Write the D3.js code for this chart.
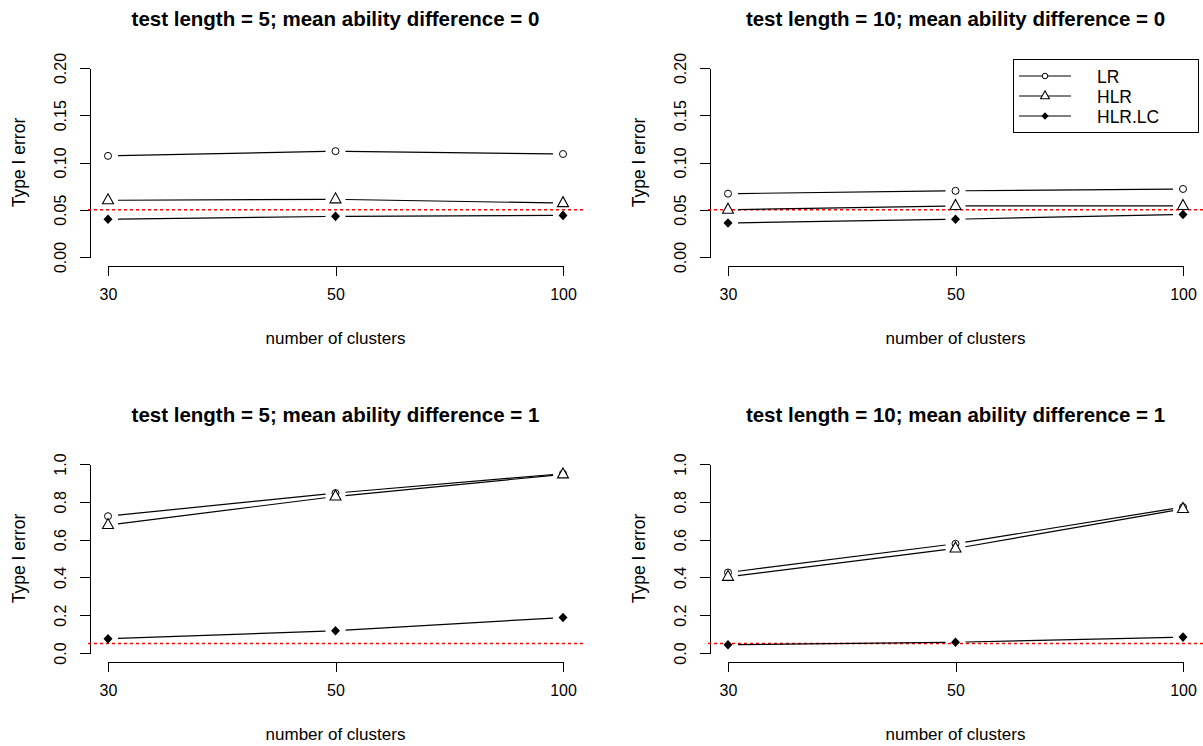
<!DOCTYPE html>
<html>
<head>
<meta charset="utf-8">
<script src="https://cdn.jsdelivr.net/npm/d3@7"></script>
<style>
  body { margin: 0; background: #fff; }
  svg { display: block; font-family: "Liberation Sans", Arial, sans-serif; }
</style>
</head>
<body>
<svg id="chart" width="1203" height="746"></svg>
<script>
// data
const clusters = [30, 50, 100];
const seriesNames = ["LR", "HLR", "HLR.LC"];

// test length = 5, mean ability difference = 0
const lr_5_0 = [0.107, 0.112, 0.109];
const hlr_5_0 = [0.060, 0.061, 0.057];
const hlrlc_5_0 = [0.040, 0.043, 0.044];

// test length = 10, mean ability difference = 0
const lr_10_0 = [0.067, 0.070, 0.072];
const hlr_10_0 = [0.050, 0.054, 0.054];
const hlrlc_10_0 = [0.036, 0.040, 0.045];

// test length = 5, mean ability difference = 1
const lr_5_1 = [0.724, 0.846, 0.949];
const hlr_5_1 = [0.677, 0.828, 0.945];
const hlrlc_5_1 = [0.075, 0.118, 0.188];

// test length = 10, mean ability difference = 1
const lr_10_1 = [0.426, 0.578, 0.772];
const hlr_10_1 = [0.403, 0.553, 0.762];
const hlrlc_10_1 = [0.044, 0.057, 0.084];

const titles = [
  "test length = 5; mean ability difference = 0",
  "test length = 10; mean ability difference = 0",
  "test length = 5; mean ability difference = 1",
  "test length = 10; mean ability difference = 1"
];
const yTicksSmall = [0, 0.05, 0.10, 0.15, 0.20];
const yTicksLarge = [0, 0.2, 0.4, 0.6, 0.8, 1.0];
const nominalAlpha = 0.05;

const svg = d3.select("#chart");

// plot region of one panel (top-left), other panels are shifted
const region = { left: 88, right: 583, top: 60, bottom: 266 };
const panelOffsets = [[0, 0], [620, 0], [0, 396], [620, 396]];

const panels = [
  { title: titles[0], ymax: 0.2, ticks: yTicksSmall, fmt: ".2f", data: [lr_5_0, hlr_5_0, hlrlc_5_0], legend: false },
  { title: titles[1], ymax: 0.2, ticks: yTicksSmall, fmt: ".2f", data: [lr_10_0, hlr_10_0, hlrlc_10_0], legend: true },
  { title: titles[2], ymax: 1.0, ticks: yTicksLarge, fmt: ".1f", data: [lr_5_1, hlr_5_1, hlrlc_5_1], legend: false },
  { title: titles[3], ymax: 1.0, ticks: yTicksLarge, fmt: ".1f", data: [lr_10_1, hlr_10_1, hlrlc_10_1], legend: false }
];

// point symbols like R's pch 1, 2 and 18
function drawSymbol(g, kind, x, y, k = 1) {
  if (kind === 0) {
    g.append("circle").attr("cx", x).attr("cy", y).attr("r", 3.5 * k)
      .attr("fill", "#fff").attr("stroke", "#000").attr("stroke-width", 1);
  } else if (kind === 1) {
    g.append("path")
      .attr("d", "M0,-6.5L5.5,3.5L-5.5,3.5Z")
      .attr("transform", `translate(${x},${y}) scale(${k})`)
      .attr("fill", "#fff").attr("stroke", "#000").attr("stroke-width", 1.1 / k);
  } else {
    g.append("path")
      .attr("d", "M0,-4.8L4.5,0L0,4.8L-4.5,0Z")
      .attr("transform", `translate(${x},${y}) scale(${k})`)
      .attr("fill", "#000");
  }
}

panels.forEach((p, i) => {
  const [dx, dy] = panelOffsets[i];
  const g = svg.append("g").attr("transform", `translate(${dx},${dy})`);

  const xScale = d3.scalePoint()
    .domain(clusters)
    .range([108, 563]);

  const yScale = d3.scaleLinear()
    .domain([0, p.ymax])
    .range([257, 68]);

  // title
  g.append("text")
    .attr("x", (region.left + region.right) / 2)
    .attr("y", 26)
    .attr("text-anchor", "middle")
    .attr("font-weight", "bold")
    .attr("font-size", 20.5)
    .text(p.title);

  // x axis
  const xAxis = g.append("g")
    .attr("transform", `translate(0,${region.bottom})`)
    .call(d3.axisBottom(xScale).tickSize(10).tickSizeOuter(0).tickPadding(13));
  xAxis.selectAll("text").attr("font-size", 16).attr("fill", "#000").attr("font-family", null);
  xAxis.selectAll("path, line").attr("stroke", "#000").attr("shape-rendering", "crispEdges");

  // y axis
  const yAxis = g.append("g")
    .attr("transform", `translate(90,0)`)
    .call(d3.axisLeft(yScale).tickValues(p.ticks).tickFormat(d3.format(p.fmt))
      .tickSize(10).tickSizeOuter(0));
  yAxis.selectAll("path, line").attr("stroke", "#000").attr("shape-rendering", "crispEdges");
  yAxis.selectAll("text")
    .attr("font-size", 16).attr("fill", "#000").attr("font-family", null)
    .attr("x", null).attr("dy", null)
    .attr("text-anchor", "middle")
    .attr("dominant-baseline", "central")
    .attr("transform", "translate(-30,0) rotate(-90)");

  // axis titles
  g.append("text")
    .attr("x", (region.left + region.right) / 2)
    .attr("y", 344)
    .attr("text-anchor", "middle")
    .attr("font-size", 17)
    .text("number of clusters");

  g.append("text")
    .attr("transform", `translate(25,${(yScale.range()[0] + yScale.range()[1]) / 2}) rotate(-90)`)
    .attr("text-anchor", "middle")
    .attr("font-size", 17.5)
    .text("Type I error");

  // nominal level
  g.append("line")
    .attr("x1", region.left).attr("x2", region.right)
    .attr("y1", yScale(nominalAlpha)).attr("y2", yScale(nominalAlpha))
    .attr("stroke", "#ff0000").attr("stroke-width", 1.5)
    .attr("stroke-dasharray", "3,3");

  // series: lines with gaps around the points (type = "b")
  const gap = 10;
  p.data.forEach((vals, s) => {
    const pts = vals.map((v, k) => [xScale(clusters[k]), yScale(v)]);
    for (let k = 0; k < pts.length - 1; k++) {
      const [x0, y0] = pts[k];
      const [x1, y1] = pts[k + 1];
      const len = Math.hypot(x1 - x0, y1 - y0);
      const ux = (x1 - x0) / len, uy = (y1 - y0) / len;
      g.append("line")
        .attr("x1", x0 + ux * gap).attr("y1", y0 + uy * gap)
        .attr("x2", x1 - ux * gap).attr("y2", y1 - uy * gap)
        .attr("stroke", "#000").attr("stroke-width", 1.2);
    }
    pts.forEach(([x, y]) => drawSymbol(g, s, x, y));
  });

  if (p.legend) {
    const lg = g.append("g");
    lg.append("rect")
      .attr("x", 393).attr("y", 59)
      .attr("width", 185).attr("height", 73)
      .attr("fill", "#fff").attr("stroke", "#000")
      .attr("shape-rendering", "crispEdges");
    const rowScale = d3.scalePoint().domain(seriesNames).range([76, 116]);
    seriesNames.forEach((name, s) => {
      const y = rowScale(name);
      lg.append("line")
        .attr("x1", 399).attr("x2", 451).attr("y1", y).attr("y2", y)
        .attr("stroke", "#000").attr("stroke-width", 1.2);
      drawSymbol(lg, s, 425, y, 0.8);
      lg.append("text")
        .attr("x", 477).attr("y", y + 1)
        .attr("dominant-baseline", "central")
        .attr("font-size", 17.5)
        .text(name);
    });
  }
});
</script>
</body>
</html>
